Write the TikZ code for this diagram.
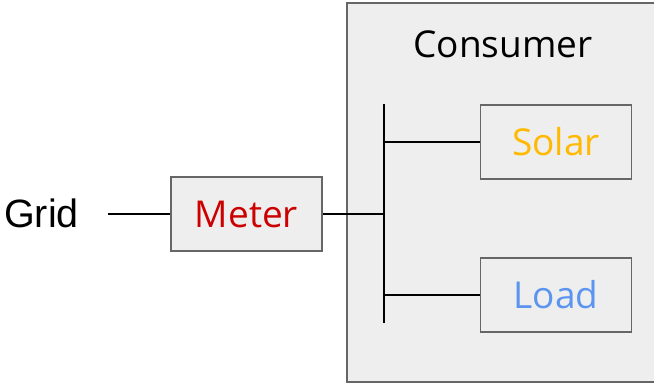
\documentclass[tikz,border=0pt]{standalone}
\usepackage{fontspec}
\setmainfont{Open Sans}
\newfontfamily\arialfont{Liberation Sans}
\definecolor{boxfill}{HTML}{EEEEEE}
\definecolor{boxline}{HTML}{666666}
\definecolor{meterred}{HTML}{CC0000}
\definecolor{solaryellow}{HTML}{FFB900}
\definecolor{loadblue}{HTML}{5B95F0}
\begin{document}
\begin{tikzpicture}[x=1bp,y=-1bp,
  unitbox/.style={draw=boxline,fill=boxfill,line width=1.6bp,minimum width=151bp,minimum height=74bp,inner sep=0pt,
    font=\fontsize{37bp}{40bp}\selectfont},
  wire/.style={line width=1.6bp,black}]
\useasboundingbox (0,0) rectangle (654,385);
% consumer enclosure
\draw[draw=boxline,fill=boxfill,line width=1.6bp] (347,3) rectangle (662,382);
\node[anchor=base,font=\fontsize{37bp}{40bp}\selectfont] (consumer) at (503,57) {Consumer};
% units
\node[unitbox,text=meterred] (meter) at (246.5,214) {Meter};
\node[unitbox,text=solaryellow] (solar) at (556,142) {Solar};
\node[unitbox,text=loadblue] (load) at (556,295) {Load};
\node[anchor=base west,inner sep=0pt,font=\arialfont\fontsize{39.5bp}{42bp}\selectfont] (grid) at (4,227) {Grid};
% bus bar
\coordinate (bustop) at (384,104);
\coordinate (busbot) at (384,323);
\coordinate (gridend) at (108,214);
\draw[wire] (bustop) -- (busbot);
\draw[wire] (gridend) -- (meter.west);
\draw[wire] (meter.east) -- (meter.east -| bustop);
\draw[wire] (solar.west -| bustop) -- (solar.west);
\draw[wire] (load.west -| bustop) -- (load.west);
\end{tikzpicture}
\end{document}
